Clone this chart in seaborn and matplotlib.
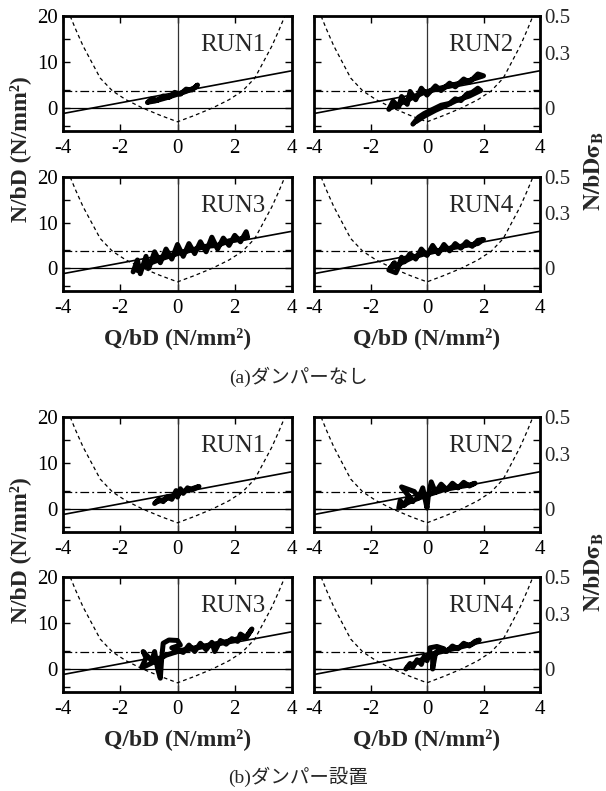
import numpy as np
import pandas as pd
import matplotlib
matplotlib.use("Agg")
import matplotlib.pyplot as plt
import seaborn as sns

sns.set_theme(style="ticks")
plt.rcParams['font.family'] = ['Liberation Serif', 'Noto Sans CJK JP']
plt.rcParams['mathtext.fontset'] = 'stix'
plt.rcParams['axes.unicode_minus'] = False

        # Reference curves

line_q = [-4.0, 4.0]
line_n = [-1.2, 8.1]
dashdot_n = 3.7
dashed_q = [-3.75, -3.55, -3.3, -3.0, -2.7, -2.27, -1.8, -1.22, -0.6, 0.0,
            0.6, 1.22, 1.8, 2.27, 2.7, 3.0, 3.3, 3.55, 3.75]
dashed_n = [20.0, 17.0, 13.5, 10.0, 6.5, 3.7, 1.8, 0.0, -1.6, -3.0,
            -1.6, 0.0, 1.8, 3.7, 6.5, 10.0, 13.5, 17.0, 20.0]

        # Hysteresis traces, (a) no damper

a1_q = [-1.05, -0.9, -0.7, -0.5, -0.3, -0.1, 0.1, 0.3, 0.5, 0.7, 0.6, 0.3, 0.0, -0.4, -0.8, -1.0]
a1_n = [1.2, 2.0, 1.7, 2.6, 2.3, 3.4, 3.0, 4.1, 3.9, 5.0, 4.4, 3.6, 3.0, 2.2, 1.5, 1.3]

a2_q = [-1.35, -1.2, -1.0, -0.9, -0.7, -0.6, -0.4, -0.2, 0.0, 0.3, 0.5, 0.8, 1.0, 1.3, 1.5,
        1.8, 2.0, 1.7, 1.3, 0.9, 0.4, -0.1, -0.6, -1.0, -1.3]
a2_n = [-0.3, 1.5, 0.2, 2.5, 0.8, 3.6, 1.8, 4.3, 2.8, 4.8, 3.8, 5.4, 4.6, 6.3, 5.6,
        7.4, 7.0, 6.4, 5.6, 5.0, 4.2, 3.4, 2.0, 0.8, 0.0]
a2b_q = [-0.5, -0.3, -0.1, 0.2, 0.5, 0.8, 1.0, 1.2, 1.4, 1.6, 1.8, 1.9, 1.5, 1.1, 0.7, 0.3,
         -0.1, -0.4]
a2b_n = [-3.5, -2.0, -1.2, -0.3, 0.6, 1.0, 2.0, 1.6, 3.0, 3.4, 4.3, 3.8, 2.6, 1.8, 0.6, -0.5,
         -1.8, -3.0]

a3_q = [-1.55, -1.4, -1.3, -1.1, -1.0, -0.8, -0.6, -0.4, -0.2, 0.0, 0.2, 0.4, 0.6, 0.8, 1.0,
        1.2, 1.4, 1.6, 1.8, 2.0, 2.2, 2.4, 2.45, 2.2, 1.8, 1.4, 1.0, 0.5, 0.0, -0.5, -1.0, -1.4]
a3_n = [-0.8, 1.8, -1.2, 2.6, 0.0, 3.6, 1.2, 4.2, 2.0, 5.2, 2.6, 5.4, 3.2, 5.8, 3.6,
        6.8, 4.2, 6.6, 5.0, 7.2, 5.8, 8.0, 6.8, 6.4, 6.0, 5.0, 4.8, 4.0, 3.2, 2.2, 1.0, -0.5]

a4_q = [-1.3, -1.15, -1.35, -1.1, -1.0, -0.9, -0.8, -0.6, -0.4, -0.2, 0.0, 0.2, 0.4, 0.6, 0.8,
        1.0, 1.2, 1.4, 1.6, 1.8, 2.0, 1.8, 1.4, 1.0, 0.5, 0.0, -0.5, -0.9, -1.1]
a4_n = [0.0, 1.2, -0.4, -1.0, 0.5, 2.4, 1.4, 3.2, 2.0, 4.2, 2.8, 5.0, 3.2, 5.2, 3.8,
        5.4, 4.4, 5.8, 4.8, 6.1, 6.3, 5.4, 5.0, 4.6, 4.0, 3.3, 2.4, 1.2, 0.3]

        # Hysteresis traces, (b) with damper

b1_q = [-0.8, -0.65, -0.5, -0.35, -0.2, -0.05, 0.0, 0.1, 0.2, 0.35, 0.5, 0.75, 0.5, 0.2,
        -0.1, -0.4, -0.75]
b1_n = [1.2, 2.1, 1.6, 2.7, 2.1, 4.0, 2.6, 4.4, 3.4, 4.6, 4.1, 4.9, 4.4, 3.8,
        3.0, 2.2, 1.5]

b2_q = [-1.0, -0.95, -0.8, -0.65, -0.5, -0.9, -0.45, -0.3, -0.15, 0.0, 0.05, 0.15, 0.3, 0.5,
        0.7, 0.9, 1.1, 1.3, 1.5, 1.7, 1.5, 1.1, 0.6, 0.2, -0.2, -0.6, -0.95]
b2_n = [0.2, 1.8, 0.8, 2.8, 1.6, 4.8, 3.8, 2.4, 4.6, 0.2, 3.0, 5.9, 3.6, 5.4,
        4.2, 5.6, 4.6, 5.8, 5.0, 5.6, 5.2, 4.8, 4.2, 3.4, 2.6, 1.6, 0.5]

b3_q = [-1.25, -1.1, -1.2, -0.9, -0.8, -0.7, -0.6, -0.55, -0.5, -0.3, 0.0, 0.1, -0.2, 0.2,
        0.4, 0.6, 0.8, 1.0, 1.2, 1.3, 1.5, 1.7, 1.9, 2.1, 2.2, 2.4, 2.6, 2.4, 2.0, 1.6, 1.1,
        0.6, 0.1, -0.4, -0.8, -1.2]
b3_n = [0.4, 2.4, 3.8, 1.8, 3.8, 0.2, -2.0, 2.5, 5.6, 6.3, 6.2, 5.2, 4.6, 3.6,
        5.2, 3.8, 5.6, 4.2, 5.8, 3.8, 6.2, 5.4, 6.6, 6.0, 7.6, 6.8, 8.7, 7.0, 6.4, 5.8, 5.2,
        4.6, 4.0, 3.0, 1.6, 0.4]

b4_q = [-0.75, -0.6, -0.5, -0.35, -0.2, -0.1, 0.0, 0.1, 0.1, 0.35, 0.6, 0.4, 0.2, 0.2, 0.3,
        0.5, 0.7, 0.9, 1.1, 1.3, 1.5, 1.7, 1.85, 1.6, 1.2, 0.8, 0.4, 0.0, -0.4, -0.7]
b4_n = [0.0, 1.2, 0.4, 2.0, 1.0, 2.8, 1.8, 3.6, 4.6, 4.9, 4.4, 4.0, 3.0, 0.0, 3.4,
        4.2, 3.8, 5.0, 4.4, 5.6, 5.0, 6.0, 6.3, 5.4, 4.8, 4.2, 3.6, 2.6, 1.4, 0.3]

runs = ['RUN1', 'RUN2', 'RUN3', 'RUN4']
traces = [[[(a1_q, a1_n)], [(a2_q, a2_n), (a2b_q, a2b_n)], [(a3_q, a3_n)], [(a4_q, a4_n)]],
          [[(b1_q, b1_n)], [(b2_q, b2_n)], [(b3_q, b3_n)], [(b4_q, b4_n)]]]
captions = ['(a)ダンパーなし', '(b)ダンパー設置']

W, H = 606, 791
fig = plt.figure(figsize=(W / 100, H / 100), dpi=100)

def px_axes(l, t, r, b):
    return fig.add_axes([l / W, 1 - b / H, (r - l) / W, (b - t) / H])

cols = [(63, 292), (314, 540)]
rows = [[(16, 131), (177, 291)], [(417, 532), (577, 692)]]

for g in range(2):
    for i in range(4):
        r, c = i // 2, i % 2
        ax = px_axes(cols[c][0], rows[g][r][0], cols[c][1], rows[g][r][1])
        ax.set_xlim(-4, 4)
        ax.set_ylim(-5, 20)

        ax.axvline(0, color='#333333', lw=0.9)
        ax.axhline(0, color='black', lw=0.9)
        ax.axhline(dashdot_n, color='black', lw=0.9, linestyle=(0, (7, 2.5, 1.5, 2.5)))
        sns.lineplot(x=line_q, y=line_n, color='black', lw=1.2, ax=ax)
        sns.lineplot(x=dashed_q, y=dashed_n, sort=False, estimator=None, color='black',
                     lw=0.9, linestyle=(0, (3, 2.5)), ax=ax)
        for q, n in traces[g][i]:
            sns.lineplot(x=q, y=n, sort=False, estimator=None, color='black', lw=3.6,
                         solid_joinstyle='round', solid_capstyle='round', ax=ax)

        ax.text(0.74, 0.745, runs[i], transform=ax.transAxes, fontsize=18,
                ha='center', va='center')

        ax.set_xticks([-4, -2, 0, 2, 4])
        ax.set_yticks([0, 10, 20])
        ax.set_yticks([-4, 4, 15], minor=True)
        ax.tick_params(which='both', direction='in', top=True, right=True, length=5,
                       width=1.0, labelsize=15, pad=4, colors='black')
        ax.tick_params(axis='x', pad=6)
        if c == 1:
            ax.set_yticklabels([])
            sec = ax.secondary_yaxis('right', functions=(lambda y: y / 40, lambda v: v * 40))
            sec.set_yticks([0, 0.3, 0.5])
            sec.set_yticklabels(['0', '0.3', '0.5'])
            sec.tick_params(length=0, labelsize=15, pad=3)
            sec.spines['right'].set_visible(False)
        for s in ax.spines.values():
            s.set_linewidth(2.0)
            s.set_color('black')
        ax.set_xlabel('')
        ax.set_ylabel('')
        if r == 1:
            ax.set_xlabel('Q/bD (N/mm²)', fontsize=17, fontweight='bold', labelpad=6.5)

    mid = (rows[g][0][0] + rows[g][1][1]) / 2
    fig.text(20 / W, 1 - (mid - 4) / H, 'N/bD (N/mm²)', rotation=90, fontsize=17,
             fontweight='bold', ha='center', va='center')
    fig.text(594 / W, 1 - (mid + 18) / H, r'$\mathbf{N/bD\sigma_B}$', rotation=90,
             fontsize=17, ha='center', va='center')
    cap_y = [377, 777][g]
    fig.text(298 / W, 1 - cap_y / H, captions[g], fontsize=14, ha='center', va='center')

plt.savefig('out.png', dpi=100)
